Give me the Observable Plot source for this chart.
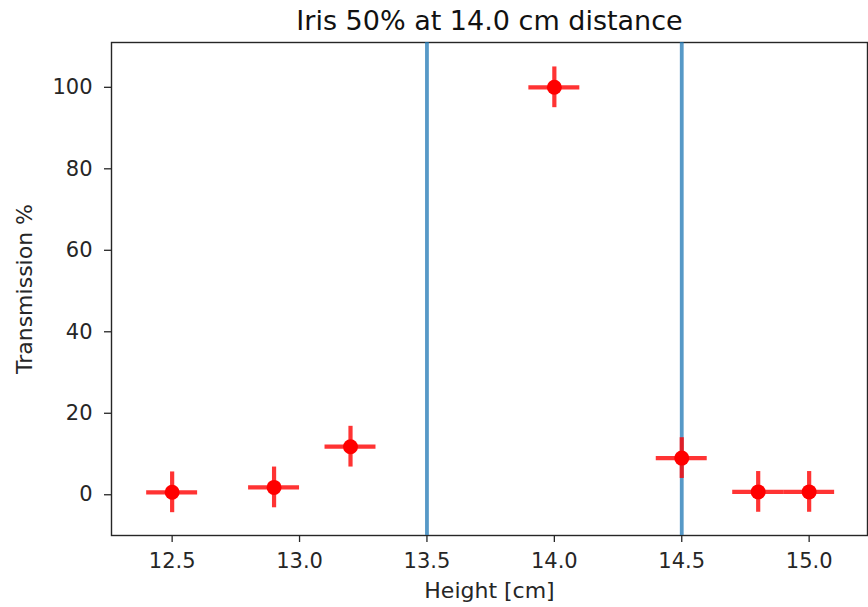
<!DOCTYPE html>
<html>
<head>
<meta charset="utf-8">
<script src="https://cdn.jsdelivr.net/npm/d3@7"></script>
<script src="https://cdn.jsdelivr.net/npm/@observablehq/plot@0.6"></script>
<style>
  html, body { margin: 0; padding: 0; background: #fff; }
  svg { display: block; }
</style>
</head>
<body>
<div id="chart"></div>
<script>
const heights = [12.5, 12.9, 13.2, 14.0, 14.5, 14.8, 15.0];
const transmission = [0.6, 1.8, 11.8, 100, 9.0, 0.7, 0.7];
const xErr = [0.1, 0.1, 0.1, 0.1, 0.1, 0.1, 0.1];
const yErr = [5, 5, 5, 5, 5, 5, 5];
const boundaries = [13.5, 14.5];
const xTicks = [12.5, 13.0, 13.5, 14.0, 14.5, 15.0];
const yTicks = [0, 20, 40, 60, 80, 100];
const title = "Iris 50% at 14.0 cm distance";

const data = heights.map((h, i) => ({x: h, y: transmission[i], dx: xErr[i], dy: yErr[i]}));

const chart = Plot.plot({
  width: 868,
  height: 607,
  marginLeft: 111,
  marginRight: 1,
  marginTop: 42,
  marginBottom: 72,
  style: {fontFamily: "DejaVu Sans", fontSize: "22px", color: "#262626", background: "#fff"},
  x: {domain: [12.262, 15.229]},
  y: {domain: [-10, 111]},
  marks: [
    Plot.frame({stroke: "#262626", strokeWidth: 1.4}),
    Plot.axisX({ticks: xTicks, tickFormat: d3.format(".1f"), tickSize: 7, tickPadding: 11, fontSize: 21,
      stroke: "#262626", strokeWidth: 1.3,
      label: null}),
    Plot.axisX({ticks: [], tickSize: 0, fontSize: 22,
      label: "Height [cm]", labelAnchor: "center", labelArrow: "none", labelOffset: 62}),
    Plot.axisY({ticks: yTicks, tickSize: 7, tickPadding: 12, fontSize: 21,
      stroke: "#262626", strokeWidth: 1.3,
      label: null}),
    Plot.axisY({ticks: [], tickSize: 0, fontSize: 22,
      label: "Transmission %", labelAnchor: "center", labelArrow: "none", labelOffset: 95}),
    Plot.ruleX(boundaries, {stroke: "#1f77b4", strokeOpacity: 0.75, strokeWidth: 3.8}),
    Plot.ruleY(data, {y: "y", x1: d => d.x - d.dx, x2: d => d.x + d.dx, stroke: "#ff0000", strokeOpacity: 0.8, strokeWidth: 4.2}),
    Plot.ruleX(data, {x: "x", y1: d => d.y - d.dy, y2: d => d.y + d.dy, stroke: "#ff0000", strokeOpacity: 0.8, strokeWidth: 4.2}),
    Plot.dot(data, {x: "x", y: "y", r: 7.5, fill: "#ff0000"}),
    Plot.text([title], {frameAnchor: "top", dy: -32, text: d => d, fontSize: 27, fill: "#111"})
  ]
});
document.getElementById("chart").append(chart);
</script>
</body>
</html>
